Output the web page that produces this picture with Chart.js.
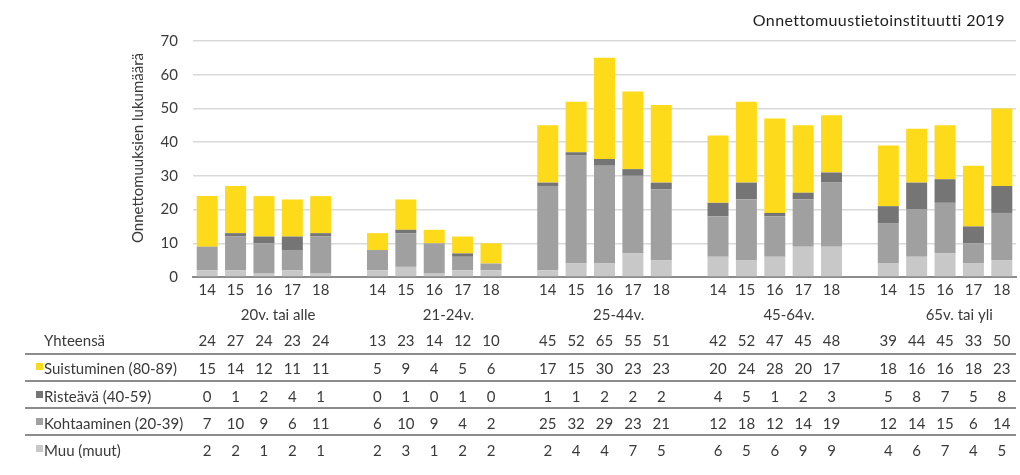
<!DOCTYPE html>
<html>
<head>
<meta charset="utf-8">
<script src="https://cdn.jsdelivr.net/npm/chart.js@4"></script>
<style>
  html, body { margin: 0; padding: 0; background: #fff; }
  #wrap { width: 1020px; height: 475px; }
</style>
</head>
<body>
<div id="wrap"><canvas id="chart"></canvas></div>
<script>
// ryhmät ja vuodet
const groups = ['20v. tai alle', '21-24v.', '25-44v.', '45-64v.', '65v. tai yli'];
const years = ['14', '15', '16', '17', '18'];
const yTicks = [0, 10, 20, 30, 40, 50, 60, 70];

// sarjat (ryhmittäin, 5 vuotta kussakin)
const totals      = [24, 27, 24, 23, 24, 13, 23, 14, 12, 10, 45, 52, 65, 55, 51, 42, 52, 47, 45, 48, 39, 44, 45, 33, 50];
const suistuminen = [15, 14, 12, 11, 11,  5,  9,  4,  5,  6, 17, 15, 30, 23, 23, 20, 24, 28, 20, 17, 18, 16, 16, 18, 23];
const risteava    = [ 0,  1,  2,  4,  1,  0,  1,  0,  1,  0,  1,  1,  2,  2,  2,  4,  5,  1,  2,  3,  5,  8,  7,  5,  8];
const kohtaaminen = [ 7, 10,  9,  6, 11,  6, 10,  9,  4,  2, 25, 32, 29, 23, 21, 12, 18, 12, 14, 19, 12, 14, 15,  6, 14];
const muu         = [ 2,  2,  1,  2,  1,  2,  3,  1,  2,  2,  2,  4,  4,  7,  5,  6,  5,  6,  9,  9,  4,  6,  7,  4,  5];

const FONT = 'Lato, "Open Sans", sans-serif';
const TXT = '#3a3a3a';
const colors = {
  suistuminen: '#fdda1a',
  risteava: '#757575',
  kohtaaminen: '#a0a0a0',
  muu: '#c8c8c8'
};

// tyhjä sarake ryhmien väliin
const labels = [];
groups.forEach((g, gi) => {
  years.forEach(y => labels.push(y));
  if (gi < groups.length - 1) labels.push('');
});
function expand(arr) {
  const out = [];
  for (let i = 0; i < arr.length; i++) {
    out.push(arr[i]);
    if (i % 5 === 4 && i < arr.length - 1) out.push(null);
  }
  return out;
}
function colIndex(i) { return Math.floor(i / 5) * 6 + (i % 5); }

// taulukon rivit
const rows = [
  { label: 'Yhteensä', values: totals, color: null, y: 341 },
  { label: 'Suistuminen (80-89)', values: suistuminen, color: colors.suistuminen, y: 369 },
  { label: 'Risteävä (40-59)', values: risteava, color: colors.risteava, y: 397 },
  { label: 'Kohtaaminen (20-39)', values: kohtaaminen, color: colors.kohtaaminen, y: 424 },
  { label: 'Muu (muut)', values: muu, color: colors.muu, y: 451 }
];
const rowLines = [354, 381, 408, 435];

const tablePlugin = {
  id: 'dataTable',
  afterDraw(chart) {
    const ctx = chart.ctx;
    const xs = chart.scales.x;
    ctx.save();
    // otsikko
    ctx.fillStyle = '#1e1e1e';
    ctx.font = '16px ' + FONT;
    ctx.letterSpacing = '0.4px';
    ctx.textAlign = 'right';
    ctx.textBaseline = 'middle';
    ctx.fillText('Onnettomuustietoinstituutti 2019', 1005, 21);
    ctx.letterSpacing = '0px';

    // y-akselin otsikko
    ctx.save();
    ctx.translate(138, 148);
    ctx.rotate(-Math.PI / 2);
    ctx.fillStyle = TXT;
    ctx.font = '15px ' + FONT;
    ctx.textAlign = 'center';
    ctx.fillText('Onnettomuuksien lukumäärä', 0, 0);
    ctx.restore();

    // ryhmien nimet
    ctx.fillStyle = TXT;
    ctx.font = '15px ' + FONT;
    ctx.textAlign = 'center';
    groups.forEach((g, gi) => {
      const cx = (xs.getPixelForValue(gi * 6 + 2) + xs.getPixelForValue(gi * 6 + 3)) / 2;
      ctx.fillText(g, cx, 315);
    });

    // viivat
    ctx.strokeStyle = '#8c8c8c';
    ctx.lineWidth = 2;
    rowLines.forEach(ly => {
      ctx.beginPath();
      ctx.moveTo(25, ly);
      ctx.lineTo(1016, ly);
      ctx.stroke();
    });

    // rivit
    rows.forEach(r => {
      ctx.textAlign = 'left';
      ctx.fillStyle = TXT;
      ctx.fillText(r.label, 44, r.y);
      if (r.color) {
        ctx.fillStyle = r.color;
        ctx.fillRect(36, r.y - 6, 7, 7);
      }
      ctx.fillStyle = TXT;
      ctx.textAlign = 'center';
      r.values.forEach((v, i) => {
        ctx.fillText(String(v), xs.getPixelForValue(colIndex(i)), r.y);
      });
    });
    ctx.restore();
  }
};

const ctx_chart = document.getElementById('chart');
const data_chart = {
  labels: labels,
  datasets: [
    { label: 'Muu (muut)', data: expand(muu), backgroundColor: colors.muu },
    { label: 'Kohtaaminen (20-39)', data: expand(kohtaaminen), backgroundColor: colors.kohtaaminen },
    { label: 'Risteävä (40-59)', data: expand(risteava), backgroundColor: colors.risteava },
    { label: 'Suistuminen (80-89)', data: expand(suistuminen), backgroundColor: colors.suistuminen }
  ]
};
const config_chart = {
  type: 'bar',
  data: data_chart,
  options: {
    responsive: true,
    maintainAspectRatio: false,
    animation: false,
    categoryPercentage: 1,
    barPercentage: 0.74,
    layout: { padding: { left: 125, right: 4, top: 41, bottom: 0 } },
    plugins: {
      legend: { display: false },
      tooltip: { enabled: true }
    },
    scales: {
      x: {
        stacked: true,
        grid: { display: false, drawTicks: false },
        border: { display: true, color: '#8c8c8c', width: 2 },
        ticks: { color: TXT, font: { family: FONT, size: 15 }, padding: 4, maxRotation: 0, autoSkip: false },
        afterFit(scale) { scale.height = 198; }
      },
      y: {
        stacked: true,
        min: 0,
        max: 70,
        afterBuildTicks(scale) { scale.ticks = yTicks.map(v => ({ value: v })); },
        grid: { color: '#d9d9d9', lineWidth: 1.5, drawTicks: false },
        border: { display: false },
        ticks: { color: TXT, font: { family: FONT, size: 15 }, padding: 15 },
        afterFit(scale) { scale.width = 68; }
      }
    }
  },
  plugins: [tablePlugin]
};
const myChart = new Chart(ctx_chart, config_chart);
</script>
</body>
</html>
